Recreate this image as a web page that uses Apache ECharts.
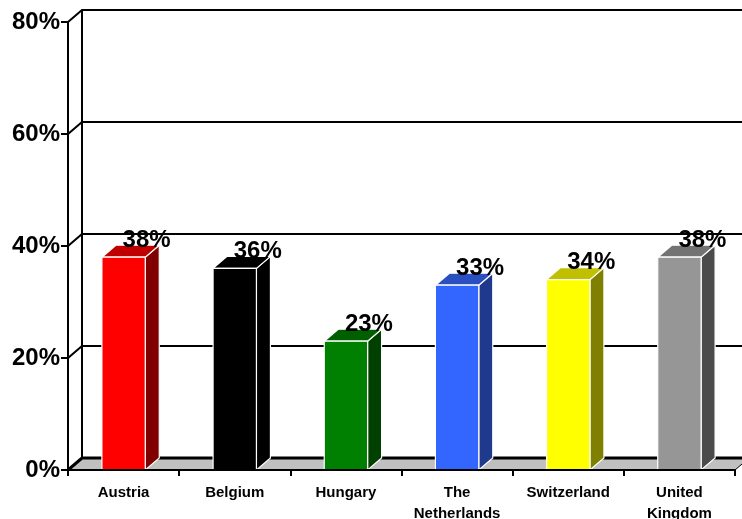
<!DOCTYPE html>
<html>
<head>
<meta charset="utf-8">
<script src="https://cdn.jsdelivr.net/npm/echarts@6/dist/echarts.min.js"></script>
<style>
  html, body { margin: 0; padding: 0; background: #fff; }
  #chart { width: 742px; height: 519px; }
</style>
</head>
<body>
<div id="chart"></div>
<script>
// data
const countries = ['Austria', 'Belgium', 'Hungary', 'The\nNetherlands', 'Switzerland', 'United\nKingdom'];
const shares = [38, 36, 23, 33, 34, 38];
const yTicks = [0, 20, 40, 60, 80];

// colours for front / side / top faces
const frontColors = ['#ff0000', '#000000', '#008000', '#3366ff', '#ffff00', '#969696'];
const sideColors  = ['#800000', '#000000', '#004000', '#1f3a8c', '#808000', '#4b4b4b'];
const topColors   = ['#c00000', '#000000', '#006000', '#2a4fc0', '#c0c000', '#737373'];

const DX = 14, DY = 12;   // depth offset of the 3d look
const FONT = '"Liberation Sans", Arial, sans-serif';

const chart = echarts.init(document.getElementById('chart'));

function renderWall(params, api) {
  const cs = params.coordSys;
  const v = api.value(1);
  const y = api.coord([0, v])[1];
  const children = [];
  if (v === 0) {
    // grey floor
    children.push({
      type: 'polygon',
      shape: { points: [[cs.x, y], [cs.x + cs.width, y], [cs.x + cs.width + DX, y - DY], [cs.x + DX, y - DY]] },
      style: { fill: '#c0c0c0', stroke: '#000', lineWidth: 1 }
    });
    // back wall left edge
    const yTop = api.coord([0, yTicks[yTicks.length - 1]])[1];
    children.push({
      type: 'line',
      shape: { x1: cs.x + DX, y1: y - DY, x2: cs.x + DX, y2: yTop - DY },
      style: { stroke: '#000', lineWidth: 2 }
    });
  }
  children.push({
    type: 'polyline',
    shape: { points: [[cs.x, y], [cs.x + DX, y - DY], [cs.x + cs.width + DX + 20, y - DY]] },
    style: { fill: null, stroke: '#000', lineWidth: v === 0 ? 3 : 2 }
  });
  return { type: 'group', children: children };
}

function renderBar(params, api) {
  const i = api.value(0);
  const val = api.value(1);
  const top = api.coord([i, val]);
  const base = api.coord([i, 0]);
  const bw = api.size([1, 0])[0] * 0.39;
  const x0 = top[0] - bw / 2;
  const x1 = x0 + bw;
  const yt = top[1], yb = base[1];
  const edge = { stroke: '#fff', lineWidth: 1.2 };
  return {
    type: 'group',
    children: [
      {
        type: 'polygon',
        shape: { points: [[x1, yt], [x1 + DX, yt - DY], [x1 + DX, yb - DY], [x1, yb]] },
        style: Object.assign({ fill: sideColors[i] }, edge)
      },
      {
        type: 'polygon',
        shape: { points: [[x0, yt], [x0 + DX, yt - DY], [x1 + DX, yt - DY], [x1, yt]] },
        style: Object.assign({ fill: topColors[i] }, edge)
      },
      {
        type: 'rect',
        shape: { x: x0, y: yt, width: bw, height: yb - yt },
        style: Object.assign({ fill: frontColors[i] }, edge)
      },
      {
        type: 'text',
        style: {
          x: top[0] + 23, y: yt - 5,
          text: val + '%',
          align: 'center', verticalAlign: 'bottom',
          font: 'bold 24px ' + FONT,
          fill: '#000'
        }
      }
    ]
  };
}

const option = {
  animation: false,
  grid: { left: 68, right: 7, top: 22, bottom: 49, outerBoundsMode: 'none', containLabel: false },
  xAxis: {
    type: 'category',
    data: countries,
    boundaryGap: true,
    z: 3,
    axisLine: { lineStyle: { color: '#000', width: 2 } },
    axisTick: { show: true, length: 6, alignWithLabel: false, lineStyle: { color: '#000', width: 2 } },
    axisLabel: {
      interval: 0, margin: 12,
      color: '#000', fontFamily: FONT, fontWeight: 'bold', fontSize: 15, lineHeight: 21
    },
    splitLine: { show: false }
  },
  yAxis: {
    type: 'value',
    min: 0, max: 80, interval: 20,
    z: 3,
    axisLine: { show: true, lineStyle: { color: '#000', width: 2 } },
    axisTick: { show: true, length: 7, lineStyle: { color: '#000', width: 2 } },
    axisLabel: {
      margin: 8, formatter: '{value}%',
      color: '#000', fontFamily: FONT, fontWeight: 'bold', fontSize: 24
    },
    splitLine: { show: false }
  },
  series: [
    {
      type: 'custom',
      z: 1,
      silent: true,
      renderItem: renderWall,
      data: yTicks.map(v => [0, v])
    },
    {
      type: 'custom',
      z: 2,
      renderItem: renderBar,
      data: shares.map((v, i) => [i, v])
    }
  ]
};

chart.setOption(option);
</script>
</body>
</html>
